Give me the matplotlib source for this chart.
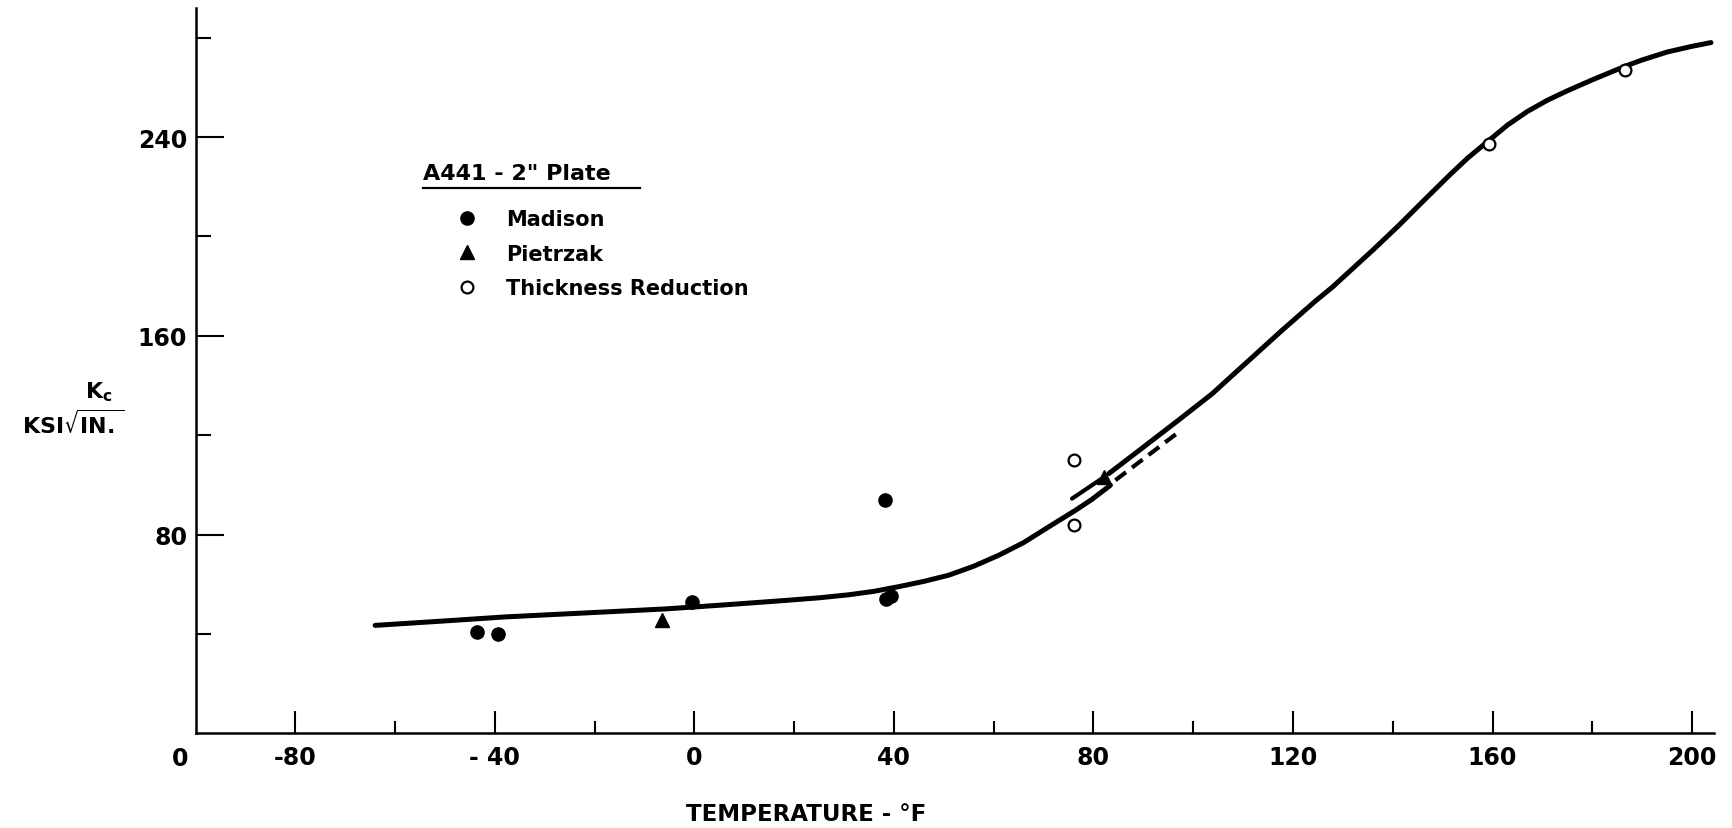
import matplotlib.pyplot as plt
from matplotlib.lines import Line2D

plt.rcParams['font.family'] = ['DejaVu Sans']
plt.rcParams['font.weight'] = 'bold'
plt.rcParams['mathtext.fontset'] = 'dejavusans'
plt.rcParams['mathtext.default'] = 'bf'

# data (temperature in F, Kc in ksi sqrt(in))
madison_t = [-43.5, -39.3, -0.4, 38.3, 38.5, 39.5]
madison_k = [41.0, 40.0, 53.0, 94.0, 54.0, 55.5]

pietrzak_t = [-6.4, 82.2]
pietrzak_k = [45.8, 103.4]

thick_t = [76.2, 76.2, 159.2, 186.6]
thick_k = [110.0, 83.9, 237.2, 266.9]

# Pietrzak range line (solid part, dashed part)
pz_solid_t = [75.7, 82.3]
pz_solid_k = [94.5, 103.4]
pz_dash_t = [84.4, 97.1]
pz_dash_k = [101.9, 121.3]

# hand drawn trend curve, drawn in two offset pieces as on the original
curve_lo_t = [-64, -50, -38, -20, -6, 5, 18, 25, 30.9, 36, 41, 46, 51, 56, 61, 66,
              71, 76.4, 79.7, 83.4]
curve_lo_k = [43.5, 45.3, 46.9, 48.7, 50.1, 51.6, 53.5, 54.6, 55.8, 57.2, 59.1,
              61.2, 63.7, 67.3, 71.7, 76.8, 83.1, 89.8, 94.2, 99.9]
curve_hi_t = [83.1, 90, 97, 103.8, 110, 117.8, 124.5, 127.9, 135.9, 141, 146, 151.3,
              155, 159.2, 163, 167, 171, 175, 180, 186.6, 190, 195, 200, 203.8]
curve_hi_k = [104.6, 115.2, 126, 136.7, 148, 162.2, 174, 179.6, 194.3, 204, 214,
              224.5, 231.5, 238.5, 244.8, 250.3, 254.8, 258.6, 263, 268.5, 271,
              274.2, 276.5, 278]

x_major = [-80, -40, 0, 40, 80, 120, 160, 200]
x_major_labels = ['-80', '- 40', '0', '40', '80', '120', '160', '200']
x_minor = [-60, -20, 20, 60, 100, 140, 180]
y_major = [80, 160, 240]
y_minor = [40, 120, 200, 280]

fig = plt.figure(figsize=(17.32, 8.29), dpi=100)
ax = fig.add_axes([0.1129, 0.114, 0.8767, 0.8754])

for ct, ck in [(curve_lo_t, curve_lo_k), (curve_hi_t, curve_hi_k)]:
    ax.plot(ct, ck, color='black', lw=3.6, solid_joinstyle='round',
            solid_capstyle='round', zorder=2)
ax.plot(pz_solid_t, pz_solid_k, color='black', lw=3.0, solid_capstyle='round', zorder=2)
ax.plot(pz_dash_t, pz_dash_k, color='black', lw=3.0, dashes=(3.2, 1.8), zorder=2)

h1, = ax.plot(madison_t, madison_k, 'o', color='black', ms=9.5, ls='none', zorder=3,
              label='Madison')
h2, = ax.plot(pietrzak_t, pietrzak_k, '^', color='black', ms=10, ls='none', zorder=3,
              label='Pietrzak')
h3, = ax.plot(thick_t, thick_k, 'o', mfc='white', mec='black', mew=1.6, ms=8.5,
              ls='none', zorder=4, label='Thickness Reduction')

ax.set_xlim(-100, 204.4)
ax.set_ylim(0, 292)

for s in ['top', 'right']:
    ax.spines[s].set_visible(False)
for s in ['left', 'bottom']:
    ax.spines[s].set_linewidth(1.8)

ax.set_xticks(x_major, labels=x_major_labels)
ax.set_xticks(x_minor, minor=True)
ax.set_yticks(y_major)
ax.set_yticks(y_minor, minor=True)
ax.tick_params(axis='x', which='major', direction='in', length=16, width=1.5,
               pad=8, labelsize=17)
ax.tick_params(axis='x', which='minor', direction='in', length=9, width=1.5)
ax.tick_params(axis='y', which='major', direction='in', length=20, width=1.5,
               pad=6, labelsize=17)
ax.tick_params(axis='y', which='minor', direction='in', length=11, width=1.5)

# origin label sitting below-left of the corner
ax.text(-103.1, -9.9, '0', ha='center', va='center', fontsize=17, clip_on=False)

# axis titles
fig.text(806 / 1732, 1 - 815 / 829, 'TEMPERATURE - °F', ha='center', va='center',
         fontsize=16.5)
fig.text(99 / 1732, 1 - 392 / 829, r'$\mathbf{K_c}$', ha='center', va='center',
         fontsize=16)
fig.text(73 / 1732, 1 - 424 / 829, r'KSI$\sqrt{\mathbf{IN.}}$', ha='center',
         va='center', fontsize=16)

# legend with underlined heading
fig.text(423 / 1732, 1 - 174.5 / 829, 'A441 - 2" Plate', ha='left', va='center',
         fontsize=16)
fig.add_artist(Line2D([423 / 1732, 640 / 1732], [1 - 189 / 829, 1 - 189 / 829],
                      color='black', lw=1.6, transform=fig.transFigure))
ax.legend(handles=[h1, h2, h3], loc='upper left',
          bbox_to_anchor=(456.6 / 1732, 1 - 210 / 829),
          bbox_transform=fig.transFigure, frameon=False, fontsize=15,
          handlelength=1.0, handletextpad=1.37, labelspacing=0.70,
          borderpad=0, borderaxespad=0, numpoints=1)

fig.savefig('out.png', dpi=100)
